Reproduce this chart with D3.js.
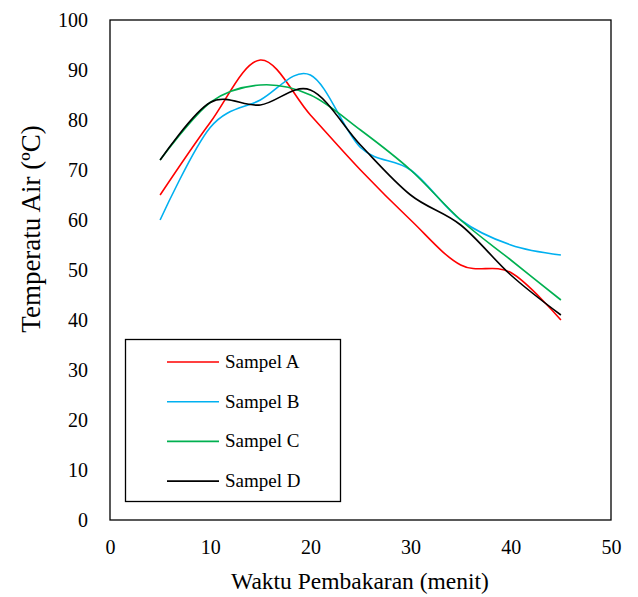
<!DOCTYPE html>
<html>
<head>
<meta charset="utf-8">
<script src="https://cdn.jsdelivr.net/npm/d3@7"></script>
<style>
  html, body { margin: 0; padding: 0; background: #fff; }
</style>
</head>
<body>
<div id="chart"></div>
<script>
// Data
const times = [5, 10, 15, 20, 25, 30, 35, 40, 45];
const sampelA = [65, 79.5, 92, 81, 70, 60, 51, 49.5, 40];
const sampelB = [60, 78.5, 84, 89, 74.5, 70, 60, 55, 53];
const sampelC = [72, 83.5, 87, 85, 78, 70, 60, 52, 44];
const sampelD = [72, 83.5, 83, 86, 75, 65, 59, 49, 41];
const seriesNames = ['Sampel A', 'Sampel B', 'Sampel C', 'Sampel D'];
const xTicks = [0, 10, 20, 30, 40, 50];
const yTicks = [0, 10, 20, 30, 40, 50, 60, 70, 80, 90, 100];

const colors = ['#ff0000', '#00b0f0', '#00b050', '#000000'];
const allSeries = [sampelA, sampelB, sampelC, sampelD];
const FONT = '"Liberation Serif", "Times New Roman", Times, "DejaVu Serif", serif';

const W = 638, H = 597;
const margin = { top: 20, right: 27, bottom: 77, left: 110 };

const svg = d3.select('#chart').append('svg')
  .attr('width', W)
  .attr('height', H)
  .style('font-family', FONT);

const x = d3.scaleLinear().domain([0, 50]).range([margin.left, W - margin.right]);
const y = d3.scaleLinear().domain([0, 100]).range([H - margin.bottom, margin.top]);

// Y axis labels
const yAxis = svg.append('g')
  .attr('transform', `translate(${margin.left - 22},0)`)
  .call(d3.axisLeft(y).tickValues(yTicks).tickSize(0).tickPadding(0));
yAxis.attr('font-family', null);
yAxis.select('.domain').remove();
yAxis.selectAll('text')
  .style('font-family', FONT)
  .attr('font-size', 20).attr('fill', '#000');

// X axis labels
const xAxis = svg.append('g')
  .attr('transform', `translate(0,${H - margin.bottom + 20})`)
  .call(d3.axisBottom(x).tickValues(xTicks).tickSize(0).tickPadding(0));
xAxis.attr('font-family', null);
xAxis.select('.domain').remove();
xAxis.selectAll('text')
  .style('font-family', FONT)
  .attr('font-size', 20).attr('fill', '#000');

// Plot area border
svg.append('rect')
  .attr('x', x(0)).attr('y', y(100))
  .attr('width', x(50) - x(0)).attr('height', y(0) - y(100))
  .attr('fill', 'none').attr('stroke', '#000').attr('stroke-width', 1.3);

// Axis titles
svg.append('text')
  .attr('x', 360).attr('y', 589)
  .attr('text-anchor', 'middle').attr('font-size', 23.5)
  .style('font-family', FONT)
  .text('Waktu Pembakaran (menit)');

svg.append('text')
  .attr('transform', `translate(40,229) rotate(-90)`)
  .attr('text-anchor', 'middle').attr('font-size', 27)
  .style('font-family', FONT)
  .text('Temperatu Air (\u00BAC)');

// Lines
const line = d3.line()
  .x((d, i) => x(times[i]))
  .y(d => y(d))
  .curve(d3.curveCatmullRom.alpha(0));

allSeries.forEach((s, i) => {
  svg.append('path')
    .datum(s)
    .attr('fill', 'none')
    .attr('stroke', colors[i])
    .attr('stroke-width', 1.6)
    .attr('d', line);
});

// Legend
const legend = svg.append('g');
legend.append('rect')
  .attr('x', 125.5).attr('y', 339.5)
  .attr('width', 215).attr('height', 162)
  .attr('fill', '#fff').attr('stroke', '#000').attr('stroke-width', 1.3);

seriesNames.forEach((name, i) => {
  const ly = 362 + i * 39.7;
  legend.append('line')
    .attr('x1', 167).attr('x2', 219)
    .attr('y1', ly).attr('y2', ly)
    .attr('stroke', colors[i]).attr('stroke-width', 1.6);
  legend.append('text')
    .attr('x', 225).attr('y', ly + 6)
    .attr('font-size', 19)
    .style('font-family', FONT)
    .text(name);
});
</script>
</body>
</html>
